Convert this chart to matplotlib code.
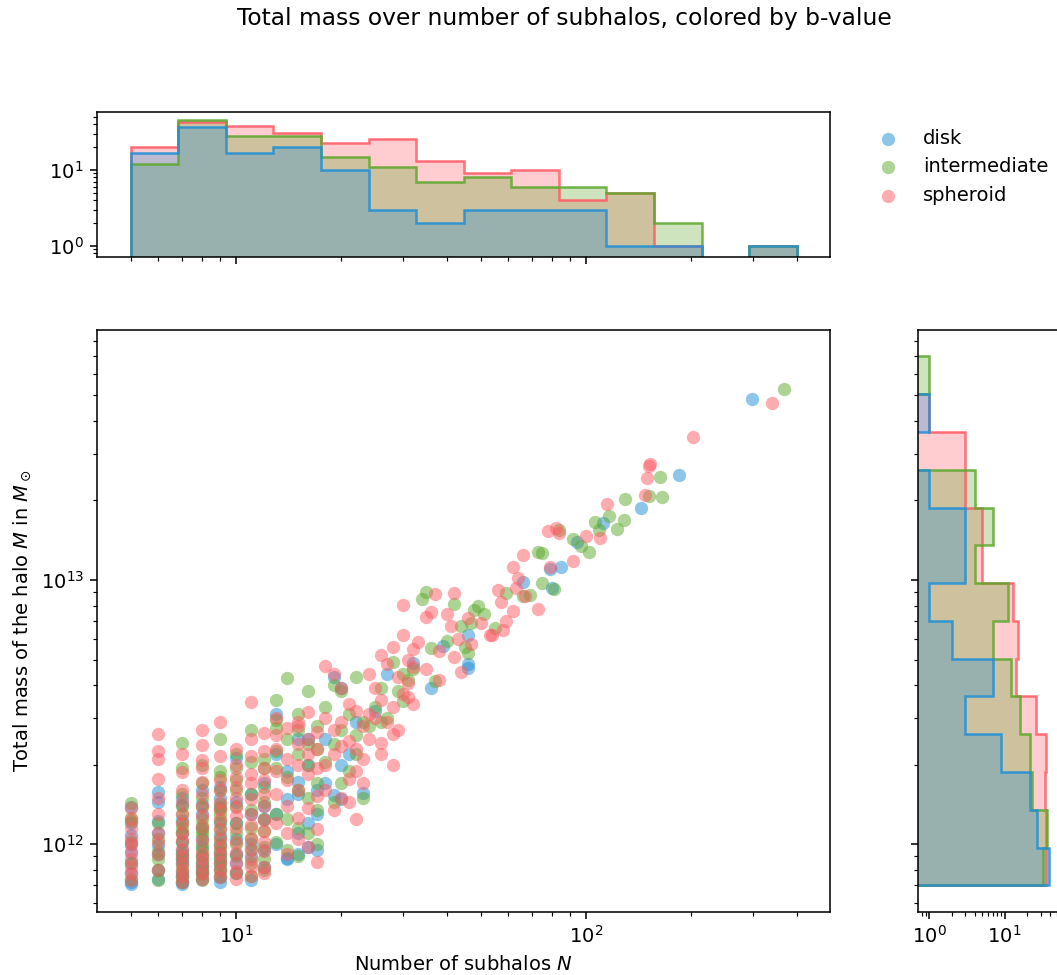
import numpy as np
import matplotlib
matplotlib.use('Agg')
import matplotlib.pyplot as plt

# subhalo counts N and halo masses M (units of 1e12 Msun), one list pair per class
n_disk = [5, 5, 5, 5, 5, 5, 5, 5, 5,
          6, 6, 6, 6, 6, 6, 6, 6,
          7, 7, 7, 7, 7, 7, 7, 7, 7, 7, 7, 7, 7,
          8, 8, 8, 8, 8, 8, 8, 8, 8, 8, 8, 8,
          9, 9, 9, 9, 9, 9, 9, 9, 9, 9, 9, 9,
          10, 10, 10, 10, 10, 10, 10,
          11, 11, 11, 11, 11,
          12, 12, 12, 12, 12,
          13, 13, 13, 13,
          14, 14, 14, 14,
          15, 15, 15, 15, 15,
          16, 16, 16, 16,
          17, 17, 17,
          18, 18, 19, 19, 20, 20, 20, 21, 22, 23,
          25, 27, 32,
          36, 39,
          46, 46, 46,
          66, 79, 80,
          85, 94, 112,
          144, 185, 298]
m_disk = [1.38, 1.2, 1.08, 1.0, 0.93, 0.85, 0.78, 0.72, 0.71,
          1.58, 1.45, 1.22, 1.1, 0.99, 0.92, 0.8, 0.74,
          1.5, 1.41, 1.24, 1.1, 1.02, 0.95, 0.92, 0.88, 0.85, 0.78, 0.76, 0.72, 0.71,
          1.6, 1.42, 1.3, 1.15, 1.05, 0.98, 0.9, 0.86, 0.83, 0.8, 0.78, 0.74,
          1.65, 1.5, 1.38, 1.2, 1.08, 1.0, 0.93, 0.89, 0.85, 0.81, 0.75, 0.72,
          2.12, 1.45, 1.2, 1.05, 0.92, 0.85, 0.78,
          1.55, 1.3, 1.0, 0.9, 0.73,
          1.7, 1.4, 1.25, 0.95, 0.82,
          3.1, 2.2, 1.3, 1.0,
          1.9, 1.49, 0.89, 0.88,
          2.5, 1.72, 1.55, 1.1, 0.92,
          2.5, 2.0, 1.2, 0.98,
          1.6, 1.3, 0.95,
          2.5, 1.71, 4.31, 1.54, 3.9, 2.0, 1.48, 2.2, 2.9, 1.56,
          3.2, 4.41, 4.85,
          3.9, 5.63,
          6.17, 4.82, 4.64,
          9.86, 11.0, 9.35,
          11.2, 13.9, 16.4,
          18.7, 25.0, 48.2]

n_inter = [5, 5, 5, 5, 5, 5,
           6, 6, 6, 6, 6, 6,
           7, 7, 7, 7, 7, 7, 7, 7, 7, 7, 7, 7, 7, 7, 7,
           8, 8, 8, 8, 8, 8, 8, 8, 8, 8, 8, 8, 8, 8, 8,
           9, 9, 9, 9, 9, 9, 9, 9, 9, 9, 9, 9, 9, 9, 9, 9,
           10, 10, 10, 10, 10, 10, 10, 10, 10, 10,
           11, 11, 11, 11, 11, 11, 11, 11, 11,
           12, 12, 12, 12, 12, 12, 12, 12, 12,
           13, 13, 13, 13, 13, 13, 13,
           14, 14, 14, 14, 14,
           15, 15, 15, 15, 15, 15,
           16, 16, 16, 16, 16,
           17, 17, 17, 17, 17,
           18, 18, 19, 19, 19, 20, 20, 20, 21, 21, 22, 22, 22, 23, 23,
           24, 25, 26, 26, 27, 28, 29, 30, 30, 31, 32,
           34, 35, 36, 37, 40, 42, 44,
           45, 46, 47, 48, 49, 51, 55, 59,
           66, 69, 73, 75, 75, 81,
           84, 92, 97, 102, 106, 109,
           116, 123, 128, 129, 151,
           163, 165,
           368]
m_inter = [1.43, 1.26, 1.22, 1.02, 0.85, 0.74,
           1.2, 1.05, 0.94, 0.88, 0.8, 0.73,
           2.42, 1.95, 1.55, 1.4, 1.3, 1.2, 1.15, 1.1, 1.02, 0.93, 0.88, 0.83, 0.79, 0.75, 0.72,
           2.0, 1.7, 1.5, 1.38, 1.25, 1.18, 1.12, 1.08, 1.0, 0.95, 0.9, 0.85, 0.8, 0.77, 0.73,
           2.5, 1.9, 1.8, 1.6, 1.42, 1.36, 1.3, 1.22, 1.14, 1.06, 0.99, 0.94, 0.89, 0.84, 0.8, 0.76,
           2.2, 1.95, 1.75, 1.6, 1.4, 1.2, 1.1, 1.0, 0.9, 0.78,
           2.7, 2.05, 1.55, 1.35, 1.15, 1.05, 0.95, 0.85, 0.76,
           2.1, 1.95, 1.65, 1.45, 1.25, 1.12, 0.98, 0.88, 0.8,
           3.5, 2.95, 2.75, 2.25, 1.95, 1.3, 1.02,
           4.26, 2.5, 1.8, 1.25, 0.95,
           3.1, 2.7, 2.2, 1.6, 1.15, 0.9,
           3.8, 2.4, 2.0, 1.5, 1.1,
           2.8, 2.3, 1.7, 1.35, 1.0,
           3.3, 2.05, 4.0, 2.4, 1.45, 3.8, 2.7, 1.7, 3.1, 1.9, 4.3, 2.6, 2.2, 2.9, 1.5,
           2.8, 3.3, 3.9, 2.9, 3.0, 4.9, 3.8, 4.41, 3.49, 4.2, 4.6,
           8.5, 8.99, 5.54, 4.13, 5.9, 8.13, 6.7,
           5.57, 5.27, 6.88, 7.68, 8.0, 7.4, 6.59, 8.92,
           8.69, 8.75, 12.7, 12.6, 9.7, 9.2,
           15.4, 14.3, 13.4, 12.8, 16.5, 15.4,
           17.4, 15.6, 16.9, 20.2, 20.8,
           24.6, 20.5,
           52.6]

n_sph = [5, 5, 5, 5, 5, 5, 5, 5, 5, 5,
         6, 6, 6, 6, 6, 6, 6, 6, 6, 6,
         7, 7, 7, 7, 7, 7, 7, 7, 7, 7, 7, 7, 7, 7,
         8, 8, 8, 8, 8, 8, 8, 8, 8, 8, 8, 8, 8, 8, 8,
         9, 9, 9, 9, 9, 9, 9, 9, 9, 9, 9, 9, 9, 9,
         10, 10, 10, 10, 10, 10, 10, 10, 10, 10, 10, 10, 10,
         11, 11, 11, 11, 11, 11, 11, 11, 11, 11, 11, 11, 11,
         12, 12, 12, 12, 12, 12, 12, 12, 12, 12, 12, 12,
         13, 13, 13, 13, 13, 13,
         14, 14, 14, 14, 14, 14,
         15, 15, 15, 15, 15, 15, 15,
         16, 16, 16, 16, 16, 16,
         17, 17, 17, 17, 17, 17,
         18, 18, 18, 18, 19, 19, 19, 19, 20, 20, 20, 20,
         21, 21, 21, 21, 22, 22, 22, 22, 23, 23, 23,
         24, 24, 24, 25, 25, 26, 26, 26, 26, 27, 27, 28, 28, 28, 28,
         29, 29, 30, 30, 30, 31, 31, 31, 32, 32, 32,
         33, 35, 35, 36, 37, 38, 38, 40, 41, 42, 42, 43, 44,
         46, 47, 50, 53, 54, 56, 57, 58, 59,
         62, 62, 63, 64, 66, 67, 73, 78, 79, 82,
         84, 92, 100, 110,
         115, 147, 149, 151, 152,
         202,
         340]
m_sph = [1.37, 1.25, 1.15, 1.05, 1.0, 0.94, 0.88, 0.82, 0.78, 0.73,
         2.62, 2.26, 2.1, 1.77, 1.5, 1.3, 1.1, 1.02, 0.92, 0.8,
         2.2, 1.88, 1.61, 1.45, 1.3, 1.2, 1.1, 1.04, 0.96, 0.9, 0.85, 0.8, 0.76, 0.72,
         2.7, 2.38, 2.08, 1.95, 1.72, 1.55, 1.4, 1.28, 1.16, 1.04, 0.93, 0.88, 0.83, 0.78, 0.74,
         2.9, 2.15, 1.75, 1.6, 1.45, 1.36, 1.25, 1.14, 1.05, 0.98, 0.92, 0.86, 0.8, 0.75,
         2.3, 2.0, 1.8, 1.65, 1.5, 1.38, 1.28, 1.15, 1.02, 0.93, 0.85, 0.79, 0.74,
         3.44, 2.5, 2.15, 1.85, 1.7, 1.48, 1.3, 1.18, 1.06, 0.96, 0.88, 0.82, 0.76,
         2.63, 2.25, 1.95, 1.75, 1.55, 1.4, 1.24, 1.12, 1.02, 0.94, 0.82, 0.78,
         3.0, 2.6, 2.3, 1.9, 1.55, 1.2,
         2.75, 2.1, 1.75, 1.4, 1.1, 0.92,
         2.9, 2.8, 2.4, 2.0, 1.6, 1.26, 1.05,
         3.16, 2.5, 2.2, 1.85, 1.37, 0.98,
         2.65, 2.3, 1.95, 1.52, 1.14, 0.86,
         4.72, 3.0, 2.0, 1.6, 4.4, 2.7, 2.2, 1.35, 3.9, 2.9, 2.35, 1.5,
         3.4, 2.45, 1.76, 1.45, 3.2, 2.3, 1.9, 1.25, 2.8, 2.1, 1.7,
         4.4, 3.1, 2.5, 3.9, 3.0, 5.2, 3.5, 2.42, 2.2, 4.8, 2.9, 5.6, 3.3, 2.61, 2.0,
         4.3, 2.7, 8.05, 6.2, 3.7, 5.0, 4.09, 3.6, 5.48, 4.67, 3.4,
         5.8, 7.23, 4.59, 7.53, 8.88, 5.38, 4.2, 7.4, 6.7, 8.9, 5.1, 6.0, 4.5,
         7.2, 5.71, 6.88, 6.18, 6.2, 9.17, 8.27, 6.48, 7.0,
         11.2, 7.66, 9.29, 10.2, 12.4, 8.69, 7.76, 15.3, 11.2, 15.7,
         15.1, 11.8, 14.6, 14.4,
         19.3, 21.0, 24.2, 27.0, 27.5,
         34.6,
         46.8]

labels = ['disk', 'intermediate', 'spheroid']
colors = ['#1f8fd6', '#5ca82c', '#ff5a64']

# log-spaced bins for the marginal histograms; pin the end points exactly
# so the smallest N = 5 is not lost to rounding
n_bins = np.logspace(np.log10(5), np.log10(400), 15)
n_bins[0], n_bins[-1] = 5, 400
m_bins = np.logspace(np.log10(7e11), np.log10(7e13), 15)
m_bins[0], m_bins[-1] = 7e11, 7e13


def log_limits(edges, frac=0.05):
    lo, hi = np.log10(edges[0]), np.log10(edges[-1])
    pad = frac * (hi - lo)
    return 10 ** (lo - pad), 10 ** (hi + pad)


def main():
    groups = [(np.array(n_disk), np.array(m_disk) * 1e12),
              (np.array(n_inter), np.array(m_inter) * 1e12),
              (np.array(n_sph), np.array(m_sph) * 1e12)]

    fig = plt.figure(figsize=(1057 / 140, 975 / 140), dpi=140)
    ax = fig.add_axes([0.0922, 0.0649, 0.6930, 0.5966])
    ax_top = fig.add_axes([0.0922, 0.7367, 0.6930, 0.1487], sharex=ax)
    ax_right = fig.add_axes([0.8682, 0.0649, 0.1372, 0.5966], sharey=ax)

    ax.set_xscale('log')
    ax.set_yscale('log')

    for (n, m), lab, c in zip(groups, labels, colors):
        ax.scatter(n, m, s=47, color=c, alpha=0.5, linewidths=0, label=lab)

    order = [2, 1, 0]
    for i in order:
        n, m = groups[i]
        ax_top.hist(n, bins=n_bins, histtype='stepfilled', color=colors[i],
                    alpha=0.3, log=True)
        ax_right.hist(m, bins=m_bins, histtype='stepfilled', color=colors[i],
                      alpha=0.3, log=True, orientation='horizontal')
    for i in order:
        n, m = groups[i]
        ax_top.hist(n, bins=n_bins, histtype='step', color=colors[i],
                    alpha=0.85, lw=1.3, log=True)
        ax_right.hist(m, bins=m_bins, histtype='step', color=colors[i],
                      alpha=0.85, lw=1.3, log=True, orientation='horizontal')

    ax.set_xlim(*log_limits(n_bins))
    ax.set_ylim(*log_limits(m_bins))
    ax_top.set_ylim(0.716, 58.9)
    ax_right.set_xlim(0.703, 58.9)

    ax_top.tick_params(labelbottom=False)
    ax_right.tick_params(labelleft=False)

    ax.set_xlabel('Number of subhalos $N$')
    ax.set_ylabel('Total mass of the halo $M$ in $M_\\odot$')

    handles, labs = ax.get_legend_handles_labels()
    fig.legend(handles, labs, loc='upper left', bbox_to_anchor=(0.805, 0.886),
               frameon=False)

    fig.suptitle('Total mass over number of subhalos, colored by b-value',
                 x=0.5336, y=0.9815, va='center', fontsize=12)

    fig.savefig('out.png', dpi=140)
    plt.close(fig)


if __name__ == '__main__':
    main()
